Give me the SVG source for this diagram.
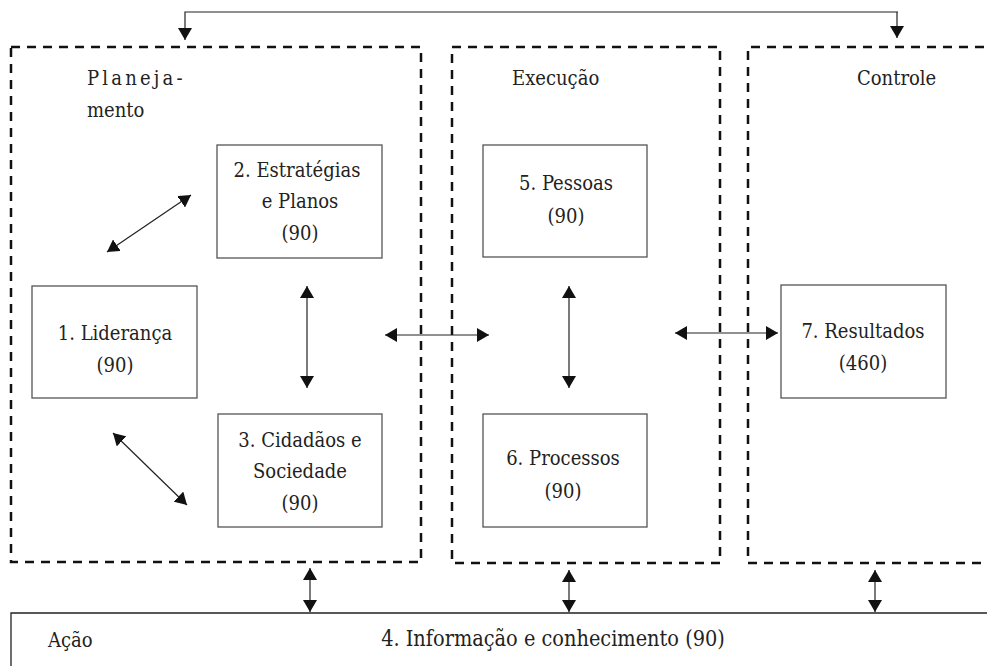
<svg xmlns="http://www.w3.org/2000/svg" width="987" height="666" viewBox="0 0 987 666">
<style>
  text { font-family: "DejaVu Serif Condensed", "DejaVu Serif", serif; font-stretch: condensed; font-size: 20px; fill: #222; }
  .c { text-anchor: middle; }
  .big { font-size: 21.5px; }
  .zone { fill: none; stroke: #111; stroke-width: 2.5; stroke-dasharray: 9 7; }
  .node { fill: #fff; stroke: #555; stroke-width: 1.3; }
  .conn { fill: none; stroke: #222; stroke-width: 1.2; }
</style>
<defs>
  <marker id="ah" viewBox="0 0 12 14" refX="12" refY="7" markerWidth="12" markerHeight="14" markerUnits="userSpaceOnUse" orient="auto-start-reverse">
    <path d="M0,0 L12,7 L0,14 Z" fill="#111"/>
  </marker>
</defs>
<rect width="987" height="666" fill="#fff"/>

<g id="zone-planejamento">
  <rect class="zone" x="11" y="47" width="410" height="515"/>
  <text x="87" y="85" letter-spacing="3.2">Planeja-</text>
  <text x="87" y="117">mento</text>
</g>
<g id="zone-execucao">
  <rect class="zone" x="452" y="47" width="268" height="516"/>
  <text x="512" y="85">Execução</text>
</g>
<g id="zone-controle">
  <path class="zone" d="M1000,47 H748 V563 H1000"/>
  <text x="857" y="85">Controle</text>
</g>

<g id="node-acao">
  <path fill="#fff" stroke="#222" stroke-width="1.3" d="M1000,613 H11 V680"/>
  <text x="48" y="647">Ação</text>
  <text class="c big" x="553" y="646">4. Informação e conhecimento (90)</text>
</g>

<g id="node-1">
  <rect class="node" x="32" y="286" width="165" height="112"/>
  <text class="c" x="115" y="340">1. Liderança</text>
  <text class="c" x="115" y="372">(90)</text>
</g>
<g id="node-2">
  <rect class="node" x="217" y="145" width="165" height="113"/>
  <text class="c" x="297" y="177">2. Estratégias</text>
  <text class="c" x="300" y="208">e Planos</text>
  <text class="c" x="300" y="240">(90)</text>
</g>
<g id="node-3">
  <rect class="node" x="218" y="414" width="164" height="113"/>
  <text class="c" x="300" y="447">3. Cidadãos e</text>
  <text class="c" x="300" y="478">Sociedade</text>
  <text class="c" x="300" y="510">(90)</text>
</g>
<g id="node-5">
  <rect class="node" x="483" y="145" width="164" height="112"/>
  <text class="c" x="566" y="190">5. Pessoas</text>
  <text class="c" x="566" y="223">(90)</text>
</g>
<g id="node-6">
  <rect class="node" x="483" y="414" width="164" height="113"/>
  <text class="c" x="563" y="465">6. Processos</text>
  <text class="c" x="563" y="498">(90)</text>
</g>
<g id="node-7">
  <rect class="node" x="781" y="285" width="165" height="113"/>
  <text class="c" x="863" y="338">7. Resultados</text>
  <text class="c" x="863" y="370">(460)</text>
</g>

<g id="connectors">
  <path class="conn" d="M898,12 H185 V40" marker-end="url(#ah)"/>
  <path class="conn" d="M897,12 V38" marker-end="url(#ah)"/>
  <line class="conn" x1="107" y1="252" x2="191" y2="195" marker-start="url(#ah)" marker-end="url(#ah)"/>
  <line class="conn" x1="113" y1="433" x2="187" y2="505" marker-start="url(#ah)" marker-end="url(#ah)"/>
  <line class="conn" x1="307" y1="286" x2="307" y2="388" marker-start="url(#ah)" marker-end="url(#ah)"/>
  <line class="conn" x1="385" y1="335" x2="489" y2="335" marker-start="url(#ah)" marker-end="url(#ah)"/>
  <line class="conn" x1="569" y1="286" x2="569" y2="388" marker-start="url(#ah)" marker-end="url(#ah)"/>
  <line class="conn" x1="675" y1="333" x2="778" y2="333" marker-start="url(#ah)" marker-end="url(#ah)"/>
  <line class="conn" x1="310" y1="568" x2="310" y2="612" marker-start="url(#ah)" marker-end="url(#ah)"/>
  <line class="conn" x1="569" y1="570" x2="569" y2="612" marker-start="url(#ah)" marker-end="url(#ah)"/>
  <line class="conn" x1="875" y1="570" x2="875" y2="612" marker-start="url(#ah)" marker-end="url(#ah)"/>
</g>
</svg>
